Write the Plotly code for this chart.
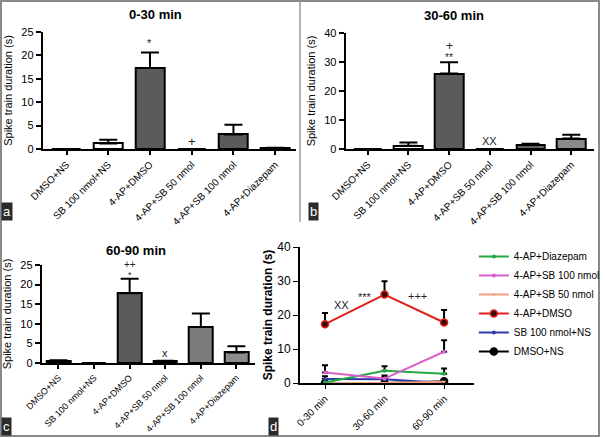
import plotly.graph_objects as go

# ---- data ----
groups = ["DMSO+NS", "SB 100 nmol+NS", "4-AP+DMSO", "4-AP+SB 50 nmol",
          "4-AP+SB 100 nmol", "4-AP+Diazepam"]
times = ["0-30 min", "30-60 min", "60-90 min"]

mean_0_30 = [0, 1.2, 17.3, 0, 3.1, 0.15]
err_0_30 = [0, 0.8, 3.3, 0, 2.1, 0.1]
mean_30_60 = [0, 1.1, 26.0, 0, 1.3, 3.6]
err_30_60 = [0, 1.1, 3.9, 0, 0.5, 1.3]
mean_60_90 = [0.5, 0, 17.8, 0.4, 9.2, 2.7]
err_60_90 = [0.2, 0, 3.7, 0.2, 3.4, 1.6]

fill_0_30 = ["white", "white", "#5b5b5b", "white", "#5b5b5b", "#7a7a7a"]
fill_30_60 = ["white", "white", "#5b5b5b", "white", "#6e6e6e", "#8a8a8a"]
fill_60_90 = ["white", "white", "#5b5b5b", "white", "#7c7c7c", "#8c8c8c"]

# time course (panel d), legend order top to bottom
line_names = ["4-AP+Diazepam", "4-AP+SB 100 nmol", "4-AP+SB 50 nmol",
              "4-AP+DMSO", "SB 100 nmol+NS", "DMSO+NS"]
line_colors = ["#22a845", "#db5fc8", "#f2a07e", "#e3211c", "#2b3aa8", "black"]
line_symbols = ["circle", "circle", "triangle-down", "circle", "circle", "circle"]
line_mean = [[0.15, 3.6, 2.7], [3.1, 1.3, 9.2], [0, 0, 0.4],
             [17.3, 26.0, 17.8], [1.2, 1.1, 0], [0, 0, 0.5]]
line_err = [[0.1, 1.3, 1.6], [2.1, 0.5, 3.4], [0, 0, 0.2],
            [3.3, 3.9, 3.7], [0.8, 1.1, 0], [0, 0, 0.2]]

FONT = "Liberation Sans, Arial, sans-serif"
W, H = 605, 438

def px(x):
    return x / W

def py(y):
    return 1 - y / H

fig = go.Figure()

panels = [
    # (mean, err, fill, axis suffix, xdom px, ydom px, ymax, dtick, xrange, width, tickfont)
    (mean_0_30, err_0_30, fill_0_30, "", (43, 298), (149, 32), 25, 5, [-0.57, 5.5], 0.69, 10),
    (mean_30_60, err_30_60, fill_30_60, "2", (348, 598), (149, 33), 40, 10, [-0.54, 5.56], 0.7, 10),
    (mean_60_90, err_60_90, fill_60_90, "3", (42, 257), (363, 265), 25, 5, [-0.47, 5.53], 0.67, 9),
]

xs = list(range(len(groups)))
for mean, err, fill, s, xd, yd, ymax, dt, xr, bw, tf in panels:
    fig.add_trace(go.Bar(
        x=xs, y=mean, width=bw, xaxis="x" + s, yaxis="y" + s,
        marker=dict(color=fill, line=dict(color="black", width=2)),
        error_y=dict(type="data", symmetric=False, array=err,
                     arrayminus=[0] * len(err), color="black",
                     thickness=2, width=9),
        showlegend=False, hoverinfo="skip"))
    fig.layout["xaxis" + s] = dict(
        domain=[px(xd[0]), px(xd[1])], range=xr, anchor="y" + s,
        tickvals=xs, ticktext=groups, tickangle=-45, showgrid=False,
        zeroline=False, showline=True, linecolor="black", linewidth=2,
        ticks="outside", ticklen=4, tickwidth=1.5, tickcolor="black",
        automargin=False,
        tickfont=dict(family=FONT, size=tf, color="black"))
    fig.layout["yaxis" + s] = dict(
        domain=[py(yd[0]), py(yd[1])], range=[0, ymax], anchor="x" + s,
        dtick=dt, showgrid=False, zeroline=False, showline=True,
        linecolor="black", linewidth=2, ticks="outside", ticklen=5,
        tickwidth=1.5, tickcolor="black", automargin=False,
        tickfont=dict(family=FONT, size=11, color="black"),
        title=dict(text="Spike train duration (s)", standoff=6,
                   font=dict(family=FONT, size=11, color="black")))

# panel d lines; draw order with red last
draw_order = [5, 4, 2, 0, 1, 3]
tx = list(range(len(times)))
for i in draw_order:
    is_big = line_names[i] in ("4-AP+DMSO", "DMSO+NS")
    fig.add_trace(go.Scatter(
        x=tx, y=line_mean[i], name=line_names[i], mode="lines+markers",
        xaxis="x4", yaxis="y4", legendrank=i + 1,
        line=dict(color=line_colors[i], width=2),
        marker=dict(symbol=line_symbols[i], size=7 if is_big else 4,
                    color="#3a0a0a" if line_names[i] == "4-AP+DMSO" else line_colors[i],
                    line=dict(color=line_colors[i], width=1.5 if is_big else 0)),
        error_y=dict(type="data", symmetric=False, array=line_err[i],
                     arrayminus=[0] * 3, color="black", thickness=2, width=3),
        hoverinfo="skip"))

fig.layout.xaxis4 = dict(
    domain=[px(302), px(477)], range=[-0.42, 2.5], anchor="y4",
    tickvals=tx, ticktext=times, tickangle=-45, showgrid=False,
    zeroline=False, showline=True, linecolor="black", linewidth=2,
    ticks="outside", ticklen=4, tickcolor="black", automargin=False,
    tickfont=dict(family=FONT, size=10, color="black"))
fig.layout.yaxis4 = dict(
    domain=[py(383), py(247)], range=[0, 40], anchor="x4", dtick=10,
    showgrid=False, zeroline=False, showline=True, linecolor="black",
    linewidth=2, ticks="outside", ticklen=5, tickcolor="black",
    automargin=False,
    tickfont=dict(family=FONT, size=12, color="black"),
    title=dict(text="<b>Spike train duration (s)</b>", standoff=2,
               font=dict(family=FONT, size=12, color="black")))

ann = []
# panel titles
for txt, x, y in [("0-30 min", 157, 14), ("30-60 min", 457, 15), ("60-90 min", 137, 250)]:
    ann.append(dict(text="<b>" + txt + "</b>", x=px(x), y=py(y), xref="paper", yref="paper",
                    xanchor="center", yanchor="middle", showarrow=False,
                    font=dict(family=FONT, size=13, color="black")))

# significance marks (data coordinates, optional pixel nudge)
marks = [("*", 2, 22.6, "", 11, 0), ("+", 3, 1.6, "", 13, 0),
         ("+", 2, 35.6, "2", 12, 0), ("**", 2, 31.6, "2", 10, 0), ("XX", 3, 2.6, "2", 11, 0),
         ("++", 2, 24.5, "3", 10, 2), ("*", 2, 22.5, "3", 9, 0), ("x", 3, 2.5, "3", 11, 0)]
for t, x, y, s, fs, sh in marks:
    ann.append(dict(text=t, x=x, y=y, xref="x" + s, yref="y" + s, showarrow=False,
                    yanchor="middle", yshift=sh,
                    font=dict(family=FONT, size=fs, color="#222")))
for t, x, y in [("XX", 0.28, 23), ("***", 0.68, 25.2), ("+++", 1.55, 25.5)]:
    ann.append(dict(text=t, x=x, y=y, xref="x4", yref="y4", showarrow=False,
                    yanchor="middle", font=dict(family=FONT, size=11, color="#222")))

# panel letters
for t, x, y in [("a", 1, 221), ("b", 310, 221), ("c", 1, 436), ("d", 270, 436)]:
    ann.append(dict(text=t, x=px(x), y=py(y), xref="paper", yref="paper",
                    xanchor="left", yanchor="bottom", showarrow=False,
                    bgcolor="#2b2b2b", borderpad=1,
                    font=dict(family=FONT, size=13, color="white")))

shapes = [
    dict(type="rect", xref="paper", yref="paper", x0=px(1), x1=px(603), y0=py(436), y1=py(1),
         line=dict(color="#8a8a8a", width=2)),
    dict(type="line", xref="paper", yref="paper", x0=px(302), x1=px(302), y0=py(222), y1=py(1),
         line=dict(color="#9a9a9a", width=1.5)),
]

fig.update_layout(
    template="none",
    width=W, height=H, margin=dict(l=0, r=0, t=0, b=0),
    paper_bgcolor="white", plot_bgcolor="white",
    annotations=ann, shapes=shapes, bargap=0,
    legend=dict(x=px(477), y=py(242), xanchor="left", yanchor="top",
                font=dict(family=FONT, size=10, color="black"),
                tracegroupgap=0, itemwidth=30, bgcolor="rgba(0,0,0,0)"),
)

# drop the browser's default page margin so the figure sits at the window corner
fig.write_html("out.html", config={"displayModeBar": False},
               post_script="document.body.style.margin='0';")
